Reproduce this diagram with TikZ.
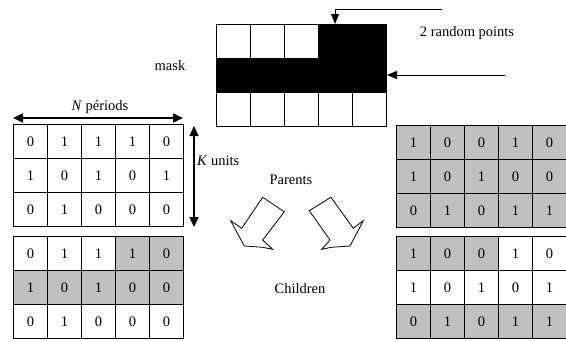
\documentclass[tikz,border=0pt]{standalone}
\usepackage{fontspec}
\setmainfont{Liberation Serif}
\usetikzlibrary{arrows.meta}
\definecolor{cellgray}{RGB}{192,192,192}
\begin{document}
\begin{tikzpicture}[x=1pt,y=-1pt,
  every node/.style={font=\fontsize{14.5}{17}\selectfont},
  cell/.style={draw=black,line width=1pt,minimum width=34pt,minimum height=34pt,inner sep=0pt,anchor=north west},
  conn/.style={line width=1pt,-{Triangle[length=10pt,width=8pt]}},
  dconn/.style={line width=1.5pt,{Triangle[length=10pt,width=9pt]}-{Triangle[length=10pt,width=9pt]}},
  blockarrow/.style={draw=black,line width=0.8pt,fill=white,line join=miter}]
\useasboundingbox (0,0) rectangle (566,341);
% mask
\foreach \row [count=\r] in {{white,white,white,black,black},{black,black,black,black,black},{white,white,white,white,white}}{
  \foreach \f [count=\c] in \row {
    \node[cell,fill=\f] (M-\r-\c) at ({216+34*(\c-1)},{24+34*(\r-1)}) {};
  }
}
% left parents
\foreach \row [count=\r] in {{0/white,1/white,1/white,1/white,0/white},{1/white,0/white,1/white,0/white,1/white},{0/white,1/white,0/white,0/white,0/white}}{
  \foreach \v/\f [count=\c] in \row {
    \node[cell,fill=\f] (LP-\r-\c) at ({13+34*(\c-1)},{124+34*(\r-1)}) {\v};
  }
}
% left child
\foreach \row [count=\r] in {{0/white,1/white,1/white,1/cellgray,0/cellgray},{1/cellgray,0/cellgray,1/cellgray,0/cellgray,0/cellgray},{0/white,1/white,0/white,0/white,0/white}}{
  \foreach \v/\f [count=\c] in \row {
    \node[cell,fill=\f] (LC-\r-\c) at ({13+34*(\c-1)},{236+34*(\r-1)}) {\v};
  }
}
% right parents
\foreach \row [count=\r] in {{1/cellgray,0/cellgray,0/cellgray,1/cellgray,0/cellgray},{1/cellgray,0/cellgray,1/cellgray,0/cellgray,0/cellgray},{0/cellgray,1/cellgray,0/cellgray,1/cellgray,1/cellgray}}{
  \foreach \v/\f [count=\c] in \row {
    \node[cell,fill=\f] (RP-\r-\c) at ({396+34*(\c-1)},{125+34*(\r-1)}) {\v};
  }
}
% right child
\foreach \row [count=\r] in {{1/cellgray,0/cellgray,0/cellgray,1/white,0/white},{1/white,0/white,1/white,0/white,1/white},{0/cellgray,1/cellgray,0/cellgray,1/cellgray,1/cellgray}}{
  \foreach \v/\f [count=\c] in \row {
    \node[cell,fill=\f] (RC-\r-\c) at ({396+34*(\c-1)},{236+34*(\r-1)}) {\v};
  }
}
% labels
\node (mask) at (170,66) {mask};
\node (rp) at (467,33) {2 random points};
\node (np) at (100,107) {\textit{N} périods};
\node[anchor=west,inner sep=0pt] (ku) at (197,161) {\textit{K} units};
\node (par) at (291,180) {Parents};
\node (chi) at (300,289) {Children};
% random point arrows
\coordinate (p1s) at (442,9);
\coordinate (p1c) at (335,9);
\coordinate (p2s) at (505,75);
\draw[conn] (p1s) -- (p1c) -- (p1c |- M-1-4.north);
\draw[conn] (p2s) -- (p2s -| M-2-5.east);
% dimension arrows
\coordinate (na) at (13,118);
\coordinate (nb) at (183,118);
\draw[dconn] (na) -- (nb);
\coordinate (ka) at (194,126);
\coordinate (kb) at (194,227);
\draw[dconn] (ka) -- (kb);
% block arrows
\draw[blockarrow] (262.7,197.3) -- (284.3,211.7) -- (262.7,240) -- (272.7,249.3) -- (262.7,247.3) -- (244.3,246) -- (230.7,220.7) -- (241.7,228.3) -- cycle;
\draw[blockarrow] (331,197.3) -- (309.3,210.7) -- (330,240) -- (321.7,249.3) -- (331.3,247.3) -- (350,246) -- (363.3,220.7) -- (353.3,228.3) -- cycle;
\end{tikzpicture}
\end{document}
